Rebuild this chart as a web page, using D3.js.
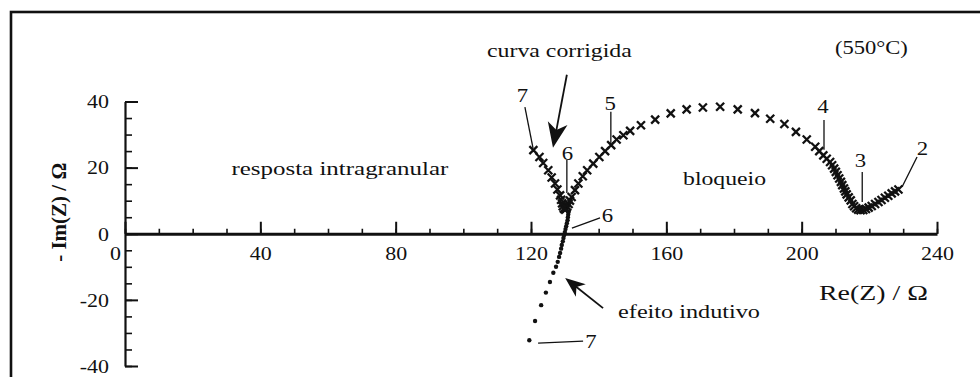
<!DOCTYPE html>
<html>
<head>
<meta charset="utf-8">
<script src="https://cdn.jsdelivr.net/npm/d3@7"></script>
<style>
  body { margin: 0; background: #fff; }
  svg { display: block; }
</style>
</head>
<body>
<svg id="chart" width="980" height="377"></svg>
<script>
// Impedance spectrum at 550 °C: Re(Z) and -Im(Z) in ohms.
// Corrected curve (crosses), from the low-frequency end (label 2) to label 7.
const crossRe = [228.6, 227.6, 226.6, 225.6, 224.6, 223.6, 222.7, 221.7, 220.7, 219.8, 219.0, 218.2, 217.4, 216.7, 216.1, 215.5, 215.0,
  214.5, 213.9, 213.3, 212.9, 212.5, 212.0, 211.6, 211.1, 210.6, 210.1, 209.6, 209.0, 208.4, 207.4, 206.4, 205.2, 204.0,
  201.5, 198.3, 194.9, 190.7, 186.2, 181.1, 175.9, 170.8, 166.0, 161.3, 156.7, 152.5, 149.3, 147.3, 145.3, 143.7, 141.9,
  140.2, 138.4, 136.6, 135.3, 134.0, 133.0, 132.0, 131.5, 131.1, 130.7, 130.4, 130.1, 129.7, 129.4, 129.2, 128.9,
  128.6, 127.8, 127.1, 126.1, 125.1, 123.6, 122.5, 120.7];
const crossIm = [13.4, 12.8, 12.2, 11.5, 10.9, 10.2, 9.6, 9.0, 8.4, 7.9, 7.5, 7.2, 7.1, 7.3, 7.7, 8.3, 9.0,
  10.1, 11.0, 11.9, 12.8, 13.7, 14.7, 15.7, 16.7, 17.7, 18.7, 19.7, 20.7, 21.7, 22.7, 23.7, 25.0, 26.3,
  28.5, 30.8, 33.2, 34.8, 36.5, 37.6, 38.4, 38.2, 37.6, 36.4, 34.5, 32.8, 31.1, 29.8, 28.5, 26.8, 25.0,
  23.2, 21.2, 19.2, 17.4, 15.2, 13.2, 11.1, 10.0, 9.0, 8.2, 7.6, 7.3, 7.6, 8.3, 9.2, 10.3,
  11.6, 13.4, 15.2, 17.0, 19.2, 21.4, 23.2, 25.3];

// Measured curve with the inductive tail (dots), from label 7 up to the cusp.
const dotRe = [119.5, 121.2, 123.0, 124.4, 125.6, 126.6, 127.4, 127.9, 128.3, 128.6, 128.9, 129.1, 129.4, 129.6,
  129.8, 130.0, 130.2, 130.4, 130.6, 130.8, 130.9, 131.0, 131.1];
const dotIm = [-32.2, -26.4, -21.6, -17.8, -14.6, -11.8, -10.0, -8.5, -7.0, -5.8, -4.5, -3.4, -2.3, -1.3,
  -0.4, 0.5, 1.4, 2.3, 3.2, 4.1, 5.0, 5.8, 6.6];

// Axis ticks
const xTickValues = [0, 40, 80, 120, 160, 200, 240];
const xTickLabels = ["0", "40", "80", "120", "160", "200", "240"];
const xMinorStep = 10;
const yTickValues = [-40, -20, 0, 20, 40];
const yTickLabels = ["-40", "-20", "0", "20", "40"];
const yMinorStep = 5;

// Text annotations (data coordinates)
const noteTexts = ["curva corrigida", "(550°C)", "resposta intragranular", "bloqueio", "efeito indutivo"];
const noteRe = [128.4, 220.6, 63.5, 177.2, 166.7];
const noteIm = [53.5, 54.4, 17.8, 14.7, -25.5];
const noteWidths = [145, 73, 217, 83, 142];

// Frequency-point labels and their leader lines
const markLabels = ["7", "5", "6", "6", "4", "3", "2", "7"];
const markRe = [117.5, 143.4, 130.8, 142.6, 206.3, 217.4, 235.7, 137.7];
const markIm = [39.9, 37.5, 22.3, 3.6, 36.5, 20.2, 23.8, -34.6];
const leaderFrom = [[118.2, 38.3], [143.6, 36.9], [130.6, 22.3], [140.4, 4.8], [206.6, 34.4], [217.9, 18.7], [234.1, 23.2], [135.4, -32.5]];
const leaderTo = [[120.6, 25.9], [143.6, 26.3], [130.6, 12.3], [132.1, 1.7], [206.6, 25.4], [217.9, 9.6], [229.7, 14.2], [122.1, -33.1]];

// Arrows pointing at the two curves
const arrowFrom = [[130.6, 48.1], [141.3, -22.5]];
const arrowTo = [[126.5, 26.0], [130.1, -13.4]];
const arrowHead = [[25, 10], [20, 8]];

const serif = "'Liberation Serif', 'Times New Roman', 'DejaVu Serif', serif";
const svg = d3.select("#chart").attr("font-family", serif);
const ink = "#111";

const x = d3.scaleLinear().domain([0, 240]).range([125, 937]);
const y = d3.scaleLinear().domain([-40, 40]).range([366, 101.5]);

// Outer frame (runs past the right and bottom edges)
svg.append("rect")
  .attr("x", 11).attr("y", 12).attr("width", 1000).attr("height", 400)
  .attr("fill", "none").attr("stroke", ink).attr("stroke-width", 2.6);

// Text drawn with a horizontal stretch, either fixed or fitted to a width
function stretched(parent, px, py, str, opts) {
  const g = parent.append("g").attr("transform", `translate(${px},${py})`);
  const t = g.append("text").text(str)
    .attr("font-family", serif)
    .attr("fill", ink)
    .attr("text-anchor", opts.anchor || "middle")
    .attr("font-size", opts.size || 18)
    .attr("font-weight", opts.weight || "normal");
  let sx = opts.sx || 1.28;
  if (opts.width) sx = opts.width / t.node().getComputedTextLength();
  t.attr("transform", `scale(${sx},1)`);
  return g;
}

// X axis: minor ticks, then major ticks with labels and the axis line
const xMinor = d3.range(0, 240 + 1e-9, xMinorStep);
const gxMinor = svg.append("g").attr("transform", `translate(0,${y(0)})`)
  .call(d3.axisBottom(x).tickValues(xMinor).tickSize(-5).tickSizeOuter(0).tickFormat(""));
gxMinor.select(".domain").remove();
gxMinor.selectAll(".tick line").attr("stroke", ink).attr("stroke-width", 1.6);

const gx = svg.append("g").attr("transform", `translate(0,${y(0)})`)
  .call(d3.axisBottom(x).tickValues(xTickValues).tickSize(-12).tickSizeOuter(0)
    .tickFormat((d, i) => xTickLabels[i]));
gx.attr("font-family", serif);
gx.select(".domain").attr("stroke", ink).attr("stroke-width", 2.8);
gx.selectAll(".tick line").attr("stroke", ink).attr("stroke-width", 2);
gx.selectAll(".tick text")
  .attr("font-family", serif).attr("font-size", 18).attr("fill", ink)
  .attr("y", 26).attr("dy", 0)
  .attr("x", d => (d === 0 ? -10 / 1.22 : 0))
  .attr("transform", "scale(1.22,1)");

// Y axis
const yMinor = d3.range(-40, 40 + 1e-9, yMinorStep);
const gyMinor = svg.append("g").attr("transform", `translate(${x(0)},0)`)
  .call(d3.axisLeft(y).tickValues(yMinor).tickSize(-7).tickSizeOuter(0).tickFormat(""));
gyMinor.select(".domain").remove();
gyMinor.selectAll(".tick line").attr("stroke", ink).attr("stroke-width", 1.6);

const gy = svg.append("g").attr("transform", `translate(${x(0)},0)`)
  .call(d3.axisLeft(y).tickValues(yTickValues).tickSize(-13).tickSizeOuter(0)
    .tickFormat((d, i) => yTickLabels[i]));
gy.attr("font-family", serif);
gy.select(".domain").attr("stroke", ink).attr("stroke-width", 2.2);
gy.selectAll(".tick line").attr("stroke", ink).attr("stroke-width", 2);
gy.selectAll(".tick text")
  .attr("font-family", serif).attr("font-size", 18).attr("fill", ink)
  .attr("text-anchor", "end").attr("x", 0).attr("dy", "0.35em")
  .attr("transform", "translate(-16,0) scale(1.22,1)");

// Axis titles
svg.append("text")
  .attr("transform", `translate(66,${y(6.5)}) rotate(-90)`)
  .attr("text-anchor", "middle")
  .attr("font-family", serif).attr("fill", ink)
  .attr("font-size", 21).attr("font-weight", "bold")
  .text("- Im(Z) / Ω");
stretched(svg, x(221.2), y(-20.1), "Re(Z) / Ω", { size: 21, width: 109 });

// Dots: measured data with inductive tail
svg.append("g").selectAll("circle")
  .data(dotRe.map((r, i) => [r, dotIm[i]]))
  .join("circle")
  .attr("cx", d => x(d[0])).attr("cy", d => y(d[1]))
  .attr("r", 2.2).attr("fill", ink);

// Crosses: corrected curve
const crossPath = "M-4,-4L4,4M-4,4L4,-4";
svg.append("g").selectAll("path")
  .data(crossRe.map((r, i) => [r, crossIm[i]]))
  .join("path")
  .attr("transform", d => `translate(${x(d[0])},${y(d[1])})`)
  .attr("d", crossPath)
  .attr("fill", "none").attr("stroke", ink).attr("stroke-width", 2.3);

// Annotation texts
noteTexts.forEach((s, i) => {
  stretched(svg, x(noteRe[i]), y(noteIm[i]), s, { size: 18, width: noteWidths[i] });
});

// Point labels with leader lines
markLabels.forEach((s, i) => {
  stretched(svg, x(markRe[i]), y(markIm[i]), s, { size: 19, sx: 1.2 });
  svg.append("line")
    .attr("x1", x(leaderFrom[i][0])).attr("y1", y(leaderFrom[i][1]))
    .attr("x2", x(leaderTo[i][0])).attr("y2", y(leaderTo[i][1]))
    .attr("stroke", ink).attr("stroke-width", 1.3);
});

// Arrows with filled, notched heads
arrowFrom.forEach((f, i) => {
  const x1 = x(f[0]), y1 = y(f[1]);
  const x2 = x(arrowTo[i][0]), y2 = y(arrowTo[i][1]);
  const [len, half] = arrowHead[i];
  const ang = Math.atan2(y2 - y1, x2 - x1);
  svg.append("line")
    .attr("x1", x1).attr("y1", y1)
    .attr("x2", x2 - len * 0.6 * Math.cos(ang))
    .attr("y2", y2 - len * 0.6 * Math.sin(ang))
    .attr("stroke", ink).attr("stroke-width", 1.8);
  svg.append("path")
    .attr("transform", `translate(${x2},${y2}) rotate(${ang * 180 / Math.PI})`)
    .attr("d", `M0,0L${-len},${-half}L${-len * 0.72},0L${-len},${half}Z`)
    .attr("fill", ink);
});
</script>
</body>
</html>
